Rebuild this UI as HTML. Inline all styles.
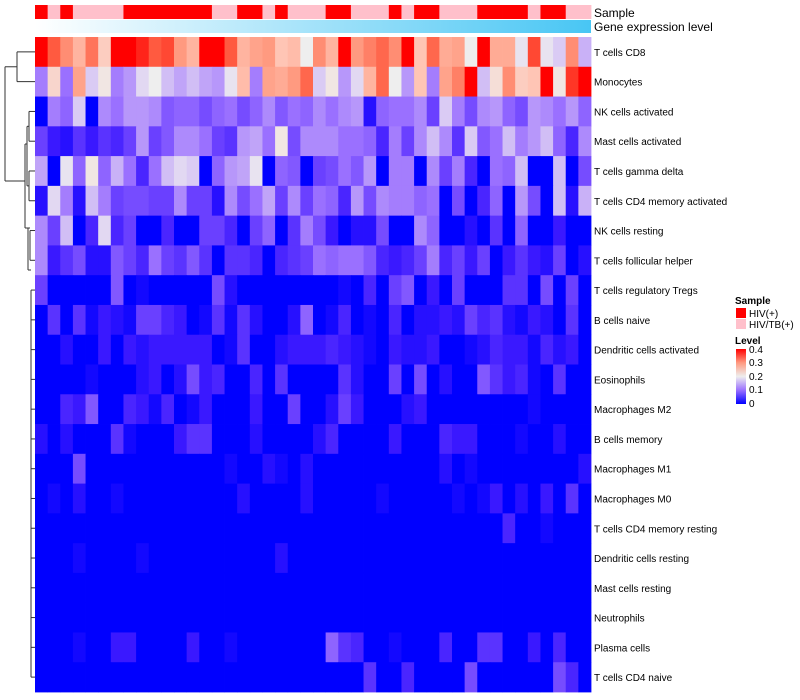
<!DOCTYPE html>
<html><head><meta charset="utf-8"><style>
html,body{margin:0;padding:0;background:#fff;}
svg{display:block;font-family:"Liberation Sans",sans-serif;}
</style></head><body>
<svg id="chart" width="800" height="700" viewBox="0 0 800 700" xmlns="http://www.w3.org/2000/svg">
<defs>
<linearGradient id="geneGrad" x1="0" x2="1" y1="0" y2="0"><stop offset="0" stop-color="#ffffff"/><stop offset="1" stop-color="#48c6f4"/></linearGradient>
<linearGradient id="levelGrad" x1="0" x2="0" y1="1" y2="0">
<stop offset="0" stop-color="#0000ff"/><stop offset="0.25" stop-color="#9a70ff"/><stop offset="0.5" stop-color="#eeeeee"/><stop offset="0.75" stop-color="#ff9a80"/><stop offset="1" stop-color="#ff0000"/></linearGradient>
</defs>
<g id="sample-bar"></g>
<rect x="35" y="20" width="556" height="13" fill="url(#geneGrad)"/>
<text x="594" y="17" font-size="12" fill="#000">Sample</text>
<text x="594" y="31" font-size="12" fill="#000">Gene expression level</text>
<g id="cells"></g>
<g id="rowlabels"></g>
<g id="dendro" stroke="#333" stroke-width="1" fill="none"></g>
<g font-size="10">
<text x="735" y="304" font-weight="bold">Sample</text>
<rect x="736" y="308" width="10" height="10" fill="#ff0000"/>
<text x="749" y="317">HIV(+)</text>
<rect x="736" y="319" width="10" height="10" fill="#ffc0cb"/>
<text x="749" y="328">HIV/TB(+)</text>
<text x="735" y="344" font-weight="bold">Level</text>
<rect x="736" y="349" width="10" height="55" fill="url(#levelGrad)"/>
<text x="749" y="353">0.4</text>
<text x="749" y="366">0.3</text>
<text x="749" y="380">0.2</text>
<text x="749" y="393">0.1</text>
<text x="749" y="407">0</text>
</g>
</svg>
<script>
const rowNames=["T cells CD8","Monocytes","NK cells activated","Mast cells activated","T cells gamma delta","T cells CD4 memory activated","NK cells resting","T cells follicular helper","T cells regulatory  Tregs","B cells naive","Dendritic cells activated","Eosinophils","Macrophages M2","B cells memory","Macrophages M1","Macrophages M0","T cells CD4 memory resting","Dendritic cells resting","Mast cells resting","Neutrophils","Plasma cells","T cells CD4 naive"];
const sampleGroups=[1,0,1,0,0,0,0,1,1,1,1,1,1,1,0,0,1,1,0,1,0,0,0,1,1,0,0,0,1,0,1,1,0,0,0,1,1,1,1,0,1,1,0,0];
const z22=[0,0,0,0,0,0,0,0,0,0,0,0,0,0,0,0,0,0,0,0,0,0];
const rowCD8=[.4,.35,.31,.27,.33,.24,.4,.4,.38,.35,.36,.3,.27,.4,.4,.35,.27,.29,.3,.25,.26,.2,.31,.27,.4,.3,.32,.34,.31,.4,.25,.34,.28,.29,.2,.4,.28,.28,.19,.36,.19,.17,.31,.15];
const rowMono=[.11,.23,.1,.29,.17,.21,.11,.13,.18,.2,.16,.14,.16,.14,.13,.19,.26,.11,.29,.28,.3,.34,.17,.21,.13,.18,.27,.34,.2,.13,.25,.11,.29,.32,.4,.16,.22,.31,.24,.25,.4,.21,.37,.4];
const rowNKact=[0,.11,.09,.17,0,.12,.1,.13,.13,.12,.08,.09,.09,.07,.09,.1,.07,.09,.12,.08,.1,.09,.12,.1,.12,.13,.02,.09,.1,.1,.12,.06,.17,.11,.07,.12,.13,.09,.07,.13,.12,.1,.13,.09];
const rowMastAct=[.06,.03,.02,.05,.03,.05,.04,.06,.13,.06,.08,.12,.12,.1,.06,.05,.13,.14,.1,.21,.07,.12,.12,.12,.1,.1,.09,.04,.11,.06,.12,.16,.12,.05,.17,.08,.1,.16,.11,.13,.16,.09,.04,.12];
const rowGamma=[.14,0,.19,.09,.21,.09,.15,.1,.04,.1,.16,.18,.17,0,.09,.13,.14,.19,0,.09,.08,0,.06,.07,.1,.08,.13,0,.11,.11,0,.12,.06,.11,.04,0,.1,.09,.16,0,0,.16,0,.07];
const rowCD4act=[.02,.18,.11,.02,.16,.11,.06,.07,.07,.06,.06,.12,.06,.06,.02,.12,.07,.1,.14,.06,.12,.06,.1,.09,.04,.13,.07,.12,.11,.11,.09,.1,0,.07,0,.04,.09,0,.13,.07,0,.16,.02,.15];
const rowNKrest=[.12,.06,.16,0,.04,.18,.04,.06,0,0,.04,0,0,.06,.06,.04,0,.06,.09,0,.05,.11,.07,.03,0,.02,.02,.07,0,0,.12,.09,0,0,.02,0,.05,0,.09,0,0,.03,0,0];
const rowTfh=[.12,.03,.05,.07,.02,.02,.08,.06,.04,.1,.06,.05,.08,.05,0,.05,.05,.04,0,.04,.05,.06,.1,.09,.1,.1,.08,.04,.03,.04,.06,.11,.04,.06,.03,.06,0,.03,.05,.03,.02,.06,0,.02];
const rowTreg=[.06,0,0,0,0,0,.08,0,.01,0,0,0,0,0,.07,.02,0,0,0,0,0,0,0,0,.01,0,.04,0,.06,.08,0,.03,0,.06,0,0,0,.05,.05,0,.07,0,.06,0];
const rowBnaive=[0,.05,0,.05,.01,.03,.02,.01,.06,.06,.04,.03,0,.01,.05,.01,.05,.02,0,0,.02,.09,0,.01,.04,0,.01,0,.04,0,.02,.02,.03,.02,.06,.04,.05,.02,.01,.03,.02,0,.05,0];
const rowDCact=[0,0,.02,0,0,.03,0,.03,.02,.03,.03,.03,.03,.03,0,.01,.05,0,0,.02,.03,.03,.03,.04,.03,.02,.01,0,.03,.02,.02,.03,0,0,.01,.02,.04,.03,.03,.01,.04,.02,.03,0];
const rowEos=[0,0,0,0,.01,0,0,0,.02,.03,0,.02,.07,.03,.04,0,0,.04,0,.05,0,0,0,0,.05,.02,0,0,.06,0,.07,0,.02,0,0,.08,.05,.03,.04,.01,0,.05,0,0];
const rowM2=[0,0,.04,.03,.08,0,0,.04,.03,.01,.04,0,.01,.03,0,0,0,.03,0,0,.06,0,0,.02,.06,.03,0,0,0,.02,.03,0,0,0,0,0,0,0,0,.01,0,0,0,0];
const rowBmem=[.02,0,.02,0,0,0,.05,.01,0,0,0,.03,.05,.05,0,0,0,.02,0,0,0,0,.02,.04,0,0,0,0,.03,0,0,0,.04,.03,.03,0,0,0,.01,0,0,.02,0,0];
const rowM1=[0,0,0,.07,0,0,0,0,0,0,0,0,0,0,0,.01,0,0,.02,.01,0,.02,0,0,0,0,0,0,0,0,0,0,.02,0,.01,0,0,0,0,0,0,0,0,.02];
const rowM0=[0,.01,0,.02,0,0,.01,0,0,0,0,0,0,0,0,0,.02,0,0,0,0,.02,0,0,0,0,0,.01,0,0,0,0,0,.01,0,.01,.03,0,.02,0,.03,0,.05,0];
const rowCD4rest=[0,0,0,0,0,0,0,0,0,0,0,0,0,0,0,0,0,0,0,0,0,0,0,0,0,0,0,0,0,0,0,0,0,0,0,0,0,.04,0,0,.01,0,0,0];
const rowDCrest=[0,0,0,.01,0,0,0,0,.01,0,0,0,0,0,0,0,0,0,0,.02,0,0,0,0,0,0,0,0,0,0,0,0,0,0,0,0,0,0,0,0,0,0,0,0];
const rowMastRest=[0,0,0,0,0,0,0,0,0,0,0,0,0,0,0,0,0,0,0,0,0,0,0,0,0,0,0,0,0,0,0,0,0,0,0,0,0,0,0,0,0,0,0,0];
const rowNeut=[0,0,0,0,0,0,0,0,0,0,0,0,0,0,0,0,0,0,0,0,0,0,0,0,0,0,0,0,0,0,0,0,0,0,0,0,0,0,0,0,0,0,0,0];
const rowPlasma=[0,0,0,.01,0,0,.03,.03,0,0,0,0,.03,0,0,.01,0,0,0,0,0,0,0,.09,.05,.04,0,0,.01,0,0,0,.04,0,0,.05,.05,0,0,.03,0,.04,0,0];
const rowCD4naive=[0,0,0,0,0,0,0,0,0,0,0,0,0,0,0,0,0,0,0,0,0,0,0,0,0,0,.05,0,0,.04,0,0,0,0,.07,0,0,0,0,0,0,.07,.04,0];
const values=[rowCD8,rowMono,rowNKact,rowMastAct,rowGamma,rowCD4act,rowNKrest,rowTfh,rowTreg,rowBnaive,rowDCact,rowEos,rowM2,rowBmem,rowM1,rowM0,rowCD4rest,rowDCrest,rowMastRest,rowNeut,rowPlasma,rowCD4naive];
const sampleColors=["#ffc0cb","#ff0000"];

const NS="http://www.w3.org/2000/svg";
const X0=35,X1=591,Y0=37,Y1=692;
const nCols=sampleGroups.length,nRows=rowNames.length;
const cw=(X1-X0)/nCols,rh=(Y1-Y0)/nRows;
function xPos(c){return X0+c*cw;}
function yPos(r){return Y0+r*rh;}
const stops=[[0,[0,0,255]],[.03,[58,24,255]],[.06,[106,64,255]],[.1,[154,112,255]],[.14,[192,164,248]],[.18,[226,216,242]],[.2,[238,238,238]],[.25,[255,197,181]],[.3,[255,154,128]],[.35,[255,90,64]],[.4,[255,0,0]]];
function colorOf(v){
  v=Math.max(0,Math.min(.4,v));
  for(let i=1;i<stops.length;i++){
    if(v<=stops[i][0]){const a=stops[i-1],b=stops[i],t=(v-a[0])/(b[0]-a[0]);
      return "rgb("+a[1].map((q,k)=>Math.round(q+(b[1][k]-q)*t)).join(",")+")";}
  }
  return "rgb(255,0,0)";
}
const sb=document.getElementById('sample-bar');
sampleGroups.forEach((g,c)=>{
  const r=document.createElementNS(NS,'rect');
  
  
  r.setAttribute('x',xPos(c));r.setAttribute('y',5);r.setAttribute('width',cw+0.4);r.setAttribute('height',14);
  r.setAttribute('fill',sampleColors[g]);sb.appendChild(r);
});
const cells=document.getElementById('cells');
values.forEach((row,r)=>{row.forEach((v,c)=>{
  const e=document.createElementNS(NS,'rect');
  
  
  e.setAttribute('x',xPos(c));e.setAttribute('y',yPos(r));e.setAttribute('width',cw+0.4);e.setAttribute('height',rh+0.4);
  e.setAttribute('fill',colorOf(v));cells.appendChild(e);
});});
const rl=document.getElementById('rowlabels');
rowNames.forEach((n,r)=>{
  const t=document.createElementNS(NS,'text');
  
  
  t.setAttribute('x',594);t.setAttribute('y',yPos(r)+rh/2+4);t.setAttribute('font-size','10');
  t.textContent=n;rl.appendChild(t);
});
// dendrogram (approximate structure)
const dg=document.getElementById('dendro');
function yc(r){return yPos(r)+rh/2;}
const segs=[
 [17,yc(0),35,yc(0)],[17,yc(1),35,yc(1)],[17,yc(0),17,yc(1)],[5,(yc(0)+yc(1))/2,17,(yc(0)+yc(1))/2],
 [5,(yc(0)+yc(1))/2,5,181],[5,181,25,181],[25,144,25,228],
 [29,yc(2),35,yc(2)],[29,yc(3),35,yc(3)],[29,yc(2),29,yc(3)],
 [29,yc(4),35,yc(4)],[29,yc(5),35,yc(5)],[29,yc(4),29,yc(5)],
 [27,(yc(2)+yc(3))/2,29,(yc(2)+yc(3))/2],[27,(yc(4)+yc(5))/2,29,(yc(4)+yc(5))/2],
 [27,(yc(2)+yc(3))/2,27,(yc(4)+yc(5))/2],[25,144,27,144],
 [30,yc(6),35,yc(6)],[30,yc(7),35,yc(7)],[30,yc(6),30,yc(7)],[28,228,30,228],[25,228,28,228],
 [28,228,28,270],[28,270,31,270],[31,yc(8),35,yc(8)],[31,yc(8),31,yc(21)]
];
for(let r=9;r<=21;r++)segs.push([31,yc(r),35,yc(r)]);
segs.forEach(s=>{
  const l=document.createElementNS(NS,'line');
  
  
  l.setAttribute('x1',s[0]);l.setAttribute('y1',s[1]);l.setAttribute('x2',s[2]);l.setAttribute('y2',s[3]);
  dg.appendChild(l);
});
</script>
</body></html>
